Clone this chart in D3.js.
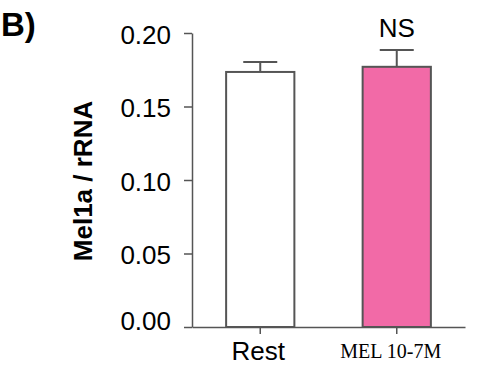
<!DOCTYPE html>
<html><head><meta charset="utf-8">
<script src="https://cdn.jsdelivr.net/npm/d3@7"></script>
<style>body{margin:0;background:#fff}svg{display:block}</style>
</head><body>
<svg id="c" width="500" height="375"></svg>
<script>
const categories = ["Rest", "MEL 10-7M"];
const means = [0.1735, 0.177];
const sems = [0.0068, 0.0114];
const fills = ["#ffffff", "#f26aa7"];
const yTicks = [0, 0.05, 0.10, 0.15, 0.20];
const annotations = ["", "NS"];

const svg = d3.select("#c");
const y = d3.scaleLinear().domain([0, 0.2]).range([327, 33]);
const x = d3.scaleBand().domain(categories).range([192, 465]).paddingInner(0.5).paddingOuter(0.25);
const stroke = "#555";

// y axis
const ya = svg.append("g").attr("transform", "translate(192,0)")
  .call(d3.axisLeft(y).tickValues(yTicks).tickFormat(d3.format(".2f")).tickSize(8).tickSizeOuter(0));
ya.select(".domain").attr("stroke", stroke).attr("stroke-width", 1.5);
ya.selectAll(".tick line").attr("stroke", stroke).attr("stroke-width", 1.5);
ya.selectAll(".tick text").attr("font-family", "Liberation Sans, Arial, sans-serif")
  .attr("font-size", 26).attr("fill", "#000").attr("x", -21)
  .attr("dy", d => d === 0 ? "0.1em" : "0.4em");

// x axis
const xa = svg.append("g").attr("transform", "translate(0,327)")
  .call(d3.axisBottom(x).tickSize(7).tickSizeOuter(0).tickFormat(""));
xa.select(".domain").attr("stroke", stroke).attr("stroke-width", 1.5);
xa.selectAll(".tick line").attr("stroke", stroke).attr("stroke-width", 1.5);

// bars
svg.selectAll("rect.bar").data(categories).enter().append("rect")
  .attr("x", d => x(d)).attr("width", x.bandwidth())
  .attr("y", (d, i) => y(means[i])).attr("height", (d, i) => y(0) - y(means[i]))
  .attr("fill", (d, i) => fills[i]).attr("stroke", stroke).attr("stroke-width", 2);

// error bars
categories.forEach((c, i) => {
  const cx = x(c) + x.bandwidth() / 2;
  const g = svg.append("g").attr("stroke", stroke).attr("stroke-width", 2);
  g.append("line").attr("x1", cx).attr("x2", cx).attr("y1", y(means[i])).attr("y2", y(means[i] + sems[i]));
  g.append("line").attr("x1", cx - 17).attr("x2", cx + 17).attr("y1", y(means[i] + sems[i])).attr("y2", y(means[i] + sems[i]));
  if (annotations[i]) {
    svg.append("text").attr("x", cx).attr("y", y(means[i] + sems[i]) - 13)
      .attr("text-anchor", "middle").attr("font-family", "Liberation Sans, Arial, sans-serif")
      .attr("font-size", 26).text(annotations[i]);
  }
});

// category labels
svg.append("text").attr("x", x(categories[0]) + x.bandwidth() / 2 - 2).attr("y", 360)
  .attr("text-anchor", "middle").attr("font-family", "Liberation Sans, Arial, sans-serif")
  .attr("font-size", 26).text(categories[0]);
svg.append("text").attr("x", x(categories[1]) + x.bandwidth() / 2 - 6).attr("y", 358)
  .attr("text-anchor", "middle").attr("font-family", "Liberation Serif, Times New Roman, serif")
  .attr("font-size", 20).text(categories[1]);

// y title
svg.append("text").attr("transform", "translate(92,181) rotate(-90)")
  .attr("text-anchor", "middle").attr("font-family", "Liberation Sans, Arial, sans-serif")
  .attr("font-weight", "bold").attr("font-size", 26).text("Mel1a / rRNA");

// panel label
svg.append("text").attr("x", 1).attr("y", 36)
  .attr("font-family", "Liberation Sans, Arial, sans-serif")
  .attr("font-weight", "bold").attr("font-size", 33).text("B)");
</script>
</body></html>
